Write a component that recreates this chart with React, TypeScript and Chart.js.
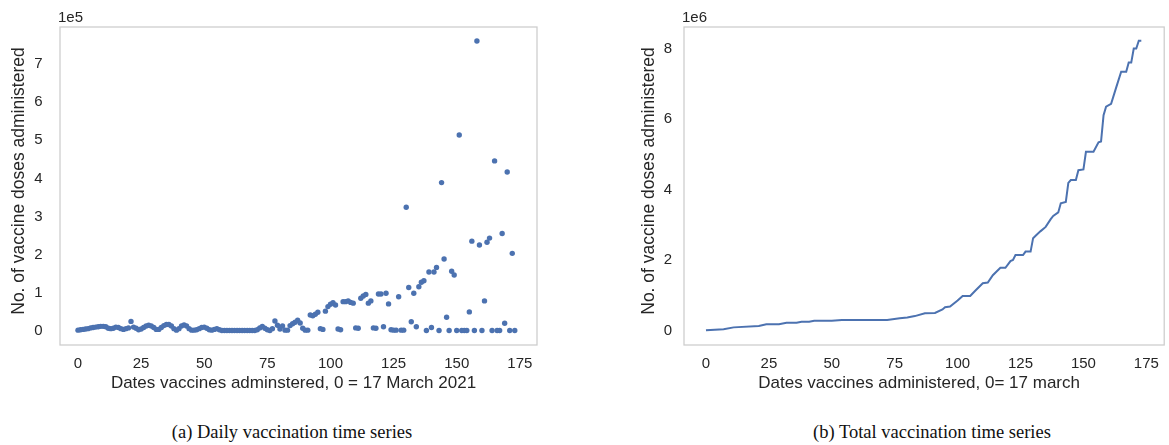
import React, { useEffect, useRef } from 'react';
import { Chart, registerables } from 'chart.js';

Chart.register(...registerables);

// Daily doses, index = days since 17 March 2021
const dailyDoses = [
  1000, 2000, 3000, 4000, 5000, 7000, 8000, 9000, 10000, 11000,
  11000, 10000, 6000, 5000, 6000, 9000, 8000, 5000, 3000, 5000,
  7000, 24000, 9000, 6000, 2000, 4000, 8000, 12000, 14000, 12000,
  8000, 3000, 3000, 8000, 13000, 16000, 16000, 12000, 5000, 1000,
  5000, 12000, 15000, 12000, 5000, 1000, 1000, 2000, 5000, 8000,
  9000, 6000, 2000, 1000, 3000, 5000, 2000, 0, 0, 0,
  0, 0, 0, 0, 0, 0, 0, 0, 0, 0,
  0, 2000, 7000, 11000, 6000, 2000, 0, 5000, 25000, 14000,
  4000, 12000, 1000, 1000, 13000, 18000, 22000, 27000, 20000, 6000,
  1000, 1000, 41000, 39000, 43000, 48000, 5000, 3000, 51000, 63000,
  69000, 73000, 67000, 4000, 2000, 76000, 76000, 78000, 74000, 72000,
  7000, 6000, 85000, 91000, 95000, 72000, 78000, 7000, 6000, 96000,
  96000, 10000, 98000, 70000, 2000, 1000, 1000, 89000, 1000, 1000,
  324000, 113000, 23000, 98000, 10000, 115000, 127000, 131000, 0, 154000,
  8000, 154000, 166000, 0, 389000, 188000, 35000, 0, 156000, 146000,
  0, 514000, 0, 0, 0, 49000, 235000, 0, 761000, 225000,
  0, 78000, 232000, 243000, 0, 446000, 0, 0, 255000, 19000,
  417000, 0, 203000, 0,
];

// Cumulative doses
const totalDays = [
  0, 7, 11, 21, 24, 29, 32, 36, 38, 41,
  43, 50, 54, 72, 77, 80, 83, 87, 91, 94,
  95, 97, 100, 102, 105, 107, 110, 112, 114, 117,
  119, 121, 122, 123, 126, 127, 129, 130, 131, 133,
  135, 137, 138, 140, 141, 143, 144, 145, 147, 148,
  150, 151, 154, 156, 157, 158, 159, 161, 163, 165,
  167, 168, 169, 170, 171, 172, 173,
];
const totalDoses = [
  10000, 40000, 90000, 130000, 180000, 180000, 220000, 220000, 250000, 250000,
  280000, 280000, 300000, 300000, 350000, 370000, 410000, 490000, 500000, 600000,
  660000, 680000, 850000, 980000, 980000, 1130000, 1340000, 1360000, 1570000, 1780000,
  1780000, 1970000, 2000000, 2140000, 2140000, 2240000, 2240000, 2620000, 2690000, 2820000,
  2940000, 3160000, 3250000, 3350000, 3610000, 3650000, 4190000, 4270000, 4270000, 4550000,
  4570000, 5070000, 5070000, 5340000, 5360000, 6110000, 6350000, 6430000, 6890000, 7340000,
  7340000, 7600000, 7600000, 8000000, 8000000, 8220000, 8220000,
];

const xTickValues = [0, 25, 50, 75, 100, 125, 150, 175];
const dailyTickValues = [0, 100000, 200000, 300000, 400000, 500000, 600000, 700000];
const totalTickValues = [0, 2000000, 4000000, 6000000, 8000000];

const SANS = "'Liberation Sans', Arial, Helvetica, sans-serif";
const SERIF = "'Liberation Serif', 'Times New Roman', Times, serif";
const BLUE = '#4c72b0';
const TEXT = '#262626';
const H = 400;

type PanelOpts = {
  xMin: number; xMax: number; yMin: number; yMax: number;
  yTicks: number[]; scale: number;
  yAxisWidth: number; yTickPad: number; padRight: number;
};

function makeOptions(p: PanelOpts): any {
  return {
    responsive: false,
    animation: false,
    events: [],
    layout: { padding: { left: 0, top: 27, right: p.padRight, bottom: 0 } },
    plugins: { legend: { display: false }, tooltip: { enabled: false } },
    scales: {
      x: {
        type: 'linear',
        min: p.xMin,
        max: p.xMax,
        grid: { display: false, drawTicks: false },
        border: { display: false },
        afterBuildTicks: (s: any) => { s.ticks = xTickValues.map((v) => ({ value: v })); },
        afterFit: (s: any) => { s.height = 55; },
        ticks: {
          autoSkip: false,
          maxRotation: 0,
          padding: 10,
          color: TEXT,
          font: { family: SANS, size: 15 },
          callback: (v: any) => String(v),
        },
      },
      y: {
        type: 'linear',
        min: p.yMin,
        max: p.yMax,
        grid: { display: false, drawTicks: false },
        border: { display: false },
        afterBuildTicks: (s: any) => { s.ticks = p.yTicks.map((v) => ({ value: v })); },
        afterFit: (s: any) => { s.width = p.yAxisWidth; },
        ticks: {
          autoSkip: false,
          padding: p.yTickPad,
          color: TEXT,
          font: { family: SANS, size: 15 },
          callback: (v: any) => String(Math.round(Number(v) / p.scale)),
        },
      },
    },
  };
}

// Frame box, offset multiplier text and axis titles
function framePlugin(offsetText: string, xTitle: string, yTitle: string) {
  return {
    id: 'frame',
    afterDatasetsDraw(chart: any) {
      const { ctx, chartArea: a } = chart;
      ctx.save();
      ctx.strokeStyle = '#cccccc';
      ctx.lineWidth = 1.25;
      ctx.strokeRect(a.left, a.top, a.right - a.left, a.bottom - a.top);
      ctx.fillStyle = TEXT;
      ctx.font = `15px ${SANS}`;
      ctx.textAlign = 'left';
      ctx.textBaseline = 'alphabetic';
      ctx.fillText(offsetText, a.left - 2, a.top - 5);

      ctx.font = `17px ${SANS}`;
      ctx.textAlign = 'center';
      ctx.textBaseline = 'middle';
      ctx.fillText(xTitle, (a.left + a.right) / 2 - 5, 383);

      ctx.font = `17.5px ${SANS}`;
      ctx.translate(19, 181);
      ctx.rotate(-Math.PI / 2);
      ctx.fillText(yTitle, 0, 0);
      ctx.restore();
    },
  };
}

function DailyChart() {
  const ref = useRef<HTMLCanvasElement>(null);
  useEffect(() => {
    const chart = new Chart(ref.current as HTMLCanvasElement, {
      type: 'scatter',
      data: {
        datasets: [{
          data: dailyDoses.map((v, i) => ({ x: i, y: v })),
          pointRadius: 2.7,
          pointBackgroundColor: BLUE,
          pointBorderWidth: 0,
          borderColor: BLUE,
        }],
      },
      options: makeOptions({
        xMin: -7.13, xMax: 181.8, yMin: -38000, yMax: 798000,
        yTicks: dailyTickValues, scale: 1e5,
        yAxisWidth: 60, yTickPad: 17.5, padRight: 23,
      }),
      plugins: [framePlugin('1e5', 'Dates vaccines adminstered, 0 = 17 March 2021', 'No. of vaccine doses administered')],
    } as any);
    return () => chart.destroy();
  }, []);
  return (
    <canvas ref={ref} width={560} height={H}
      style={{ position: 'absolute', left: 0, top: 0, width: 560, height: H }} />
  );
}

function TotalChart() {
  const ref = useRef<HTMLCanvasElement>(null);
  useEffect(() => {
    const chart = new Chart(ref.current as HTMLCanvasElement, {
      type: 'line',
      data: {
        datasets: [{
          data: totalDays.map((d, i) => ({ x: d, y: totalDoses[i] })),
          borderColor: BLUE,
          borderWidth: 2,
          pointRadius: 0,
          tension: 0,
          fill: false,
        }],
      },
      options: makeOptions({
        xMin: -8.73, xMax: 182.1, yMin: -410000, yMax: 8610000,
        yTicks: totalTickValues, scale: 1e6,
        yAxisWidth: 54, yTickPad: 12, padRight: 4,
      }),
      plugins: [framePlugin('1e6', 'Dates vaccines administered, 0= 17 march', 'No. of vaccine doses administered')],
    } as any);
    return () => chart.destroy();
  }, []);
  return (
    <canvas ref={ref} width={539} height={H}
      style={{ position: 'absolute', left: 630, top: 0, width: 539, height: H }} />
  );
}

const captionStyle = (cx: number): React.CSSProperties => ({
  position: 'absolute',
  left: cx - 200,
  width: 400,
  top: 421,
  textAlign: 'center',
  fontFamily: SERIF,
  fontSize: 18.5,
  lineHeight: '22px',
  color: '#111',
  whiteSpace: 'nowrap',
});

export default function App() {
  return (
    <div style={{ position: 'absolute', left: 0, top: 0, width: 1169, height: 445, background: '#fff', overflow: 'hidden' }}>
      <DailyChart />
      <TotalChart />
      <div style={captionStyle(292)}>(a) Daily vaccination time series</div>
      <div style={captionStyle(932)}>(b) Total vaccination time series</div>
    </div>
  );
}
